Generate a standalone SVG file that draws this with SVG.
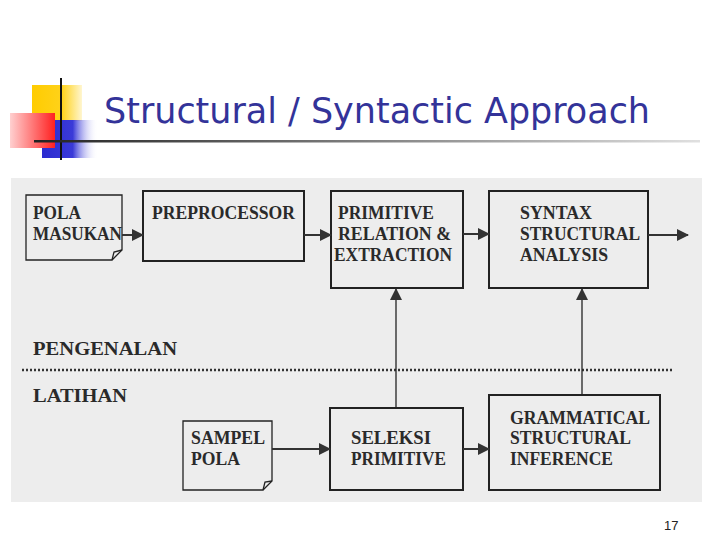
<svg xmlns="http://www.w3.org/2000/svg" width="720" height="540" viewBox="0 0 720 540">
<style>
.box{fill:none;stroke:#222;stroke-width:2}
.doc{fill:none;stroke:#222;stroke-width:1.3}
.t{font-family:"Liberation Serif","Times New Roman",serif;font-weight:bold;font-size:18px;fill:#2a2a2a}
.c{fill:none;stroke:#333;stroke-width:2}
.cv{fill:none;stroke:#222;stroke-width:1.3}
</style>
<defs>
<linearGradient id="rule" x1="0" y1="0" x2="1" y2="0">
<stop offset="0" stop-color="#222"/>
<stop offset="0.45" stop-color="#777"/>
<stop offset="1" stop-color="#e0e0e0"/>
</linearGradient>
<linearGradient id="red" x1="0" y1="0" x2="1" y2="0">
<stop offset="0" stop-color="#ffd0d0"/>
<stop offset="1" stop-color="#ff2020"/>
</linearGradient>
<linearGradient id="blue" x1="0" y1="0" x2="1" y2="0">
<stop offset="0" stop-color="#2b2bd0"/>
<stop offset="0.55" stop-color="#3a3ad8"/>
<stop offset="1" stop-color="#ffffff" stop-opacity="0"/>
</linearGradient>
<linearGradient id="yellow" x1="0" y1="0" x2="1" y2="0">
<stop offset="0" stop-color="#ffcc00"/>
<stop offset="0.6" stop-color="#ffd21a"/>
<stop offset="1" stop-color="#fff6d0"/>
</linearGradient>
<marker id="ah" viewBox="0 0 12 12" refX="11" refY="6" markerWidth="12" markerHeight="12" markerUnits="userSpaceOnUse" orient="auto">
<path d="M0,0 L12,6 L0,12 Z" fill="#333"/>
</marker>
</defs>

<g id="title">
<rect x="32" y="85" width="50" height="36" fill="url(#yellow)"/>
<rect x="42" y="120" width="56" height="38" fill="url(#blue)"/>
<rect x="10" y="113" width="45" height="35" fill="url(#red)"/>
<line x1="61" y1="78" x2="61" y2="160" stroke="#111" stroke-width="2"/>
<rect x="34" y="140" width="666" height="2.5" fill="url(#rule)"/>
<text x="104" y="123" font-family="Tahoma,'DejaVu Sans','Liberation Sans',sans-serif" font-size="36" fill="#333399" textLength="546" lengthAdjust="spacingAndGlyphs">Structural / Syntactic Approach</text>
</g>

<rect id="scan" x="11" y="178" width="691" height="324" fill="#ededed"/>

<g id="pola-masukan">
<path class="doc" d="M26,195 H122 V250 L112,260 H26 Z"/>
<path class="doc" d="M112,260 L114,252 L122,250"/>
<text class="t" x="33" y="219" textLength="48" lengthAdjust="spacingAndGlyphs">POLA</text>
<text class="t" x="33" y="240" textLength="89" lengthAdjust="spacingAndGlyphs">MASUKAN</text>
</g>

<g id="preprocessor">
<rect class="box" x="143" y="191" width="161" height="70"/>
<text class="t" x="152" y="219" textLength="143" lengthAdjust="spacingAndGlyphs">PREPROCESSOR</text>
</g>

<g id="primitive-relation">
<rect class="box" x="331" y="191" width="132" height="97"/>
<text class="t" x="338" y="219" textLength="96" lengthAdjust="spacingAndGlyphs">PRIMITIVE</text>
<text class="t" x="338" y="240" textLength="113" lengthAdjust="spacingAndGlyphs">RELATION &amp;</text>
<text class="t" x="334" y="261" textLength="118" lengthAdjust="spacingAndGlyphs">EXTRACTION</text>
</g>

<g id="syntax-analysis">
<rect class="box" x="489" y="191" width="159" height="97"/>
<text class="t" x="520" y="219" textLength="72" lengthAdjust="spacingAndGlyphs">SYNTAX</text>
<text class="t" x="520" y="240" textLength="120" lengthAdjust="spacingAndGlyphs">STRUCTURAL</text>
<text class="t" x="520" y="261" textLength="88" lengthAdjust="spacingAndGlyphs">ANALYSIS</text>
</g>

<g id="pengenalan">
<text class="t" x="33" y="355" textLength="144" lengthAdjust="spacingAndGlyphs">PENGENALAN</text>
</g>

<g id="latihan">
<text class="t" x="33" y="402" textLength="94" lengthAdjust="spacingAndGlyphs">LATIHAN</text>
</g>

<line id="divider" x1="22" y1="370" x2="672" y2="370" stroke="#333" stroke-width="2.5" stroke-dasharray="2,2"/>

<g id="sampel-pola">
<path class="doc" d="M183,421 H272 V481 L263,490 H183 Z"/>
<path class="doc" d="M263,490 L265,482 L272,481"/>
<text class="t" x="191" y="444" textLength="74" lengthAdjust="spacingAndGlyphs">SAMPEL</text>
<text class="t" x="191" y="465" textLength="49" lengthAdjust="spacingAndGlyphs">POLA</text>
</g>

<g id="seleksi-primitive">
<rect class="box" x="330" y="408" width="133" height="82"/>
<text class="t" x="351" y="444" textLength="80" lengthAdjust="spacingAndGlyphs">SELEKSI</text>
<text class="t" x="351" y="465" textLength="95" lengthAdjust="spacingAndGlyphs">PRIMITIVE</text>
</g>

<g id="grammatical-inference">
<rect class="box" x="489" y="395" width="171" height="95"/>
<text class="t" x="510" y="424" textLength="140" lengthAdjust="spacingAndGlyphs">GRAMMATICAL</text>
<text class="t" x="510" y="444" textLength="121" lengthAdjust="spacingAndGlyphs">STRUCTURAL</text>
<text class="t" x="510" y="465" textLength="103" lengthAdjust="spacingAndGlyphs">INFERENCE</text>
</g>

<g id="connectors">
<line class="c" x1="122" y1="235" x2="143" y2="235" marker-end="url(#ah)"/>
<line class="c" x1="304" y1="235" x2="331" y2="235" marker-end="url(#ah)"/>
<line class="c" x1="463" y1="234" x2="489" y2="234" marker-end="url(#ah)"/>
<line class="c" x1="648" y1="235" x2="688" y2="235" marker-end="url(#ah)"/>
<line class="cv" x1="396" y1="408" x2="396" y2="289" marker-end="url(#ah)"/>
<line class="cv" x1="582" y1="395" x2="582" y2="289" marker-end="url(#ah)"/>
<line class="c" x1="272" y1="449" x2="330" y2="449" marker-end="url(#ah)"/>
<line class="c" x1="463" y1="449" x2="489" y2="449" marker-end="url(#ah)"/>
</g>

<text id="page-number" x="664" y="530" font-family="'Liberation Sans',Arial,sans-serif" font-size="13" fill="#222">17</text>
</svg>
